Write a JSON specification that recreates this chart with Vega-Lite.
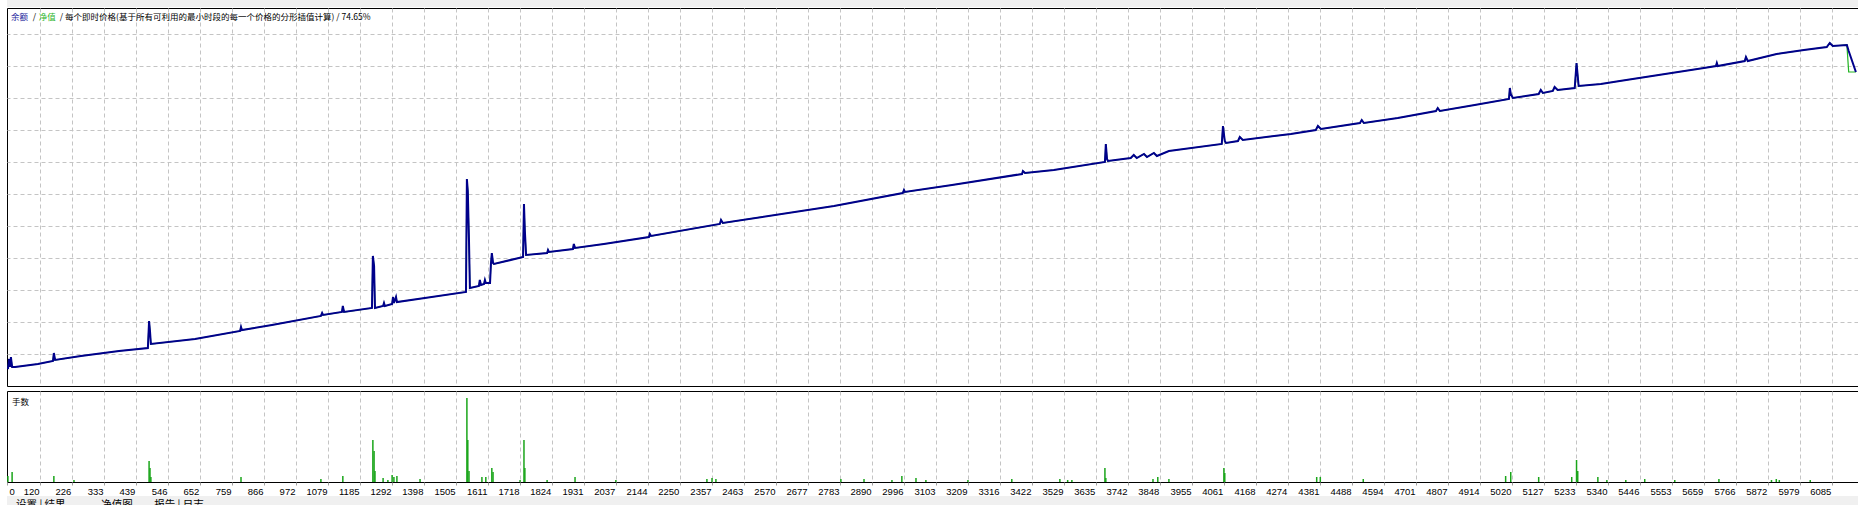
{
  "$schema": "https://vega.github.io/schema/vega-lite/v6.json",
  "background": "white",
  "padding": {"left": 3, "top": 0, "right": 0, "bottom": 0},
  "spacing": 0,
  "config": {
    "view": {"stroke": "black", "strokeWidth": 1, "fill": "white"},
    "font": "Liberation Sans"
  },
  "datasets": {
    "eq": [
      {"trade":13,"balance":531,"equity":531},{"trade":17,"balance":844,"equity":844},{"trade":20,"balance":594,"equity":594},{"trade":23,"balance":906,"equity":906},{"trade":27,"balance":594,"equity":594},{"trade":37,"balance":594,"equity":594},{"trade":113,"balance":688,"equity":688},{"trade":163,"balance":781,"equity":781},{"trade":166,"balance":1031,"equity":1031},{"trade":170,"balance":813,"equity":813},{"trade":256,"balance":938,"equity":938},{"trade":383,"balance":1094,"equity":1094},{"trade":479,"balance":1188,"equity":1188},{"trade":483,"balance":2031,"equity":2031},{"trade":486,"balance":1719,"equity":1719},{"trade":489,"balance":1313,"equity":1313},{"trade":636,"balance":1469,"equity":1469},{"trade":786,"balance":1719,"equity":1719},{"trade":789,"balance":1844,"equity":1844},{"trade":792,"balance":1750,"equity":1750},{"trade":892,"balance":1906,"equity":1906},{"trade":1055,"balance":2188,"equity":2188},{"trade":1059,"balance":2281,"equity":2281},{"trade":1062,"balance":2219,"equity":2219},{"trade":1125,"balance":2313,"equity":2313},{"trade":1128,"balance":2500,"equity":2500},{"trade":1132,"balance":2313,"equity":2313},{"trade":1225,"balance":2438,"equity":2438},{"trade":1228,"balance":4063,"equity":4063},{"trade":1232,"balance":3750,"equity":3750},{"trade":1235,"balance":2438,"equity":2438},{"trade":1262,"balance":2500,"equity":2500},{"trade":1265,"balance":2594,"equity":2594},{"trade":1268,"balance":2500,"equity":2500},{"trade":1292,"balance":2563,"equity":2563},{"trade":1295,"balance":2781,"equity":2781},{"trade":1298,"balance":2594,"equity":2594},{"trade":1305,"balance":2781,"equity":2781},{"trade":1308,"balance":2625,"equity":2625},{"trade":1401,"balance":2750,"equity":2750},{"trade":1538,"balance":2938,"equity":2938},{"trade":1541,"balance":6469,"equity":6469},{"trade":1544,"balance":6094,"equity":6094},{"trade":1548,"balance":4531,"equity":4531},{"trade":1551,"balance":3063,"equity":3063},{"trade":1581,"balance":3125,"equity":3125},{"trade":1584,"balance":3313,"equity":3313},{"trade":1588,"balance":3156,"equity":3156},{"trade":1598,"balance":3188,"equity":3188},{"trade":1601,"balance":3313,"equity":3313},{"trade":1604,"balance":3219,"equity":3219},{"trade":1618,"balance":3219,"equity":3219},{"trade":1621,"balance":3813,"equity":3813},{"trade":1624,"balance":4156,"equity":4156},{"trade":1628,"balance":3844,"equity":3844},{"trade":1631,"balance":3813,"equity":3813},{"trade":1714,"balance":4000,"equity":4000},{"trade":1728,"balance":4031,"equity":4031},{"trade":1731,"balance":5688,"equity":5688},{"trade":1734,"balance":4844,"equity":4844},{"trade":1738,"balance":4094,"equity":4094},{"trade":1808,"balance":4156,"equity":4156},{"trade":1811,"balance":4250,"equity":4250},{"trade":1814,"balance":4188,"equity":4188},{"trade":1894,"balance":4281,"equity":4281},{"trade":1897,"balance":4438,"equity":4438},{"trade":1901,"balance":4313,"equity":4313},{"trade":1997,"balance":4438,"equity":4438},{"trade":2147,"balance":4656,"equity":4656},{"trade":2150,"balance":4750,"equity":4750},{"trade":2154,"balance":4688,"equity":4688},{"trade":2383,"balance":5063,"equity":5063},{"trade":2387,"balance":5188,"equity":5188},{"trade":2393,"balance":5094,"equity":5094},{"trade":2763,"balance":5625,"equity":5625},{"trade":2992,"balance":6031,"equity":6031},{"trade":2996,"balance":6125,"equity":6125},{"trade":2999,"balance":6063,"equity":6063},{"trade":3156,"balance":6281,"equity":6281},{"trade":3389,"balance":6625,"equity":6625},{"trade":3392,"balance":6719,"equity":6719},{"trade":3399,"balance":6656,"equity":6656},{"trade":3495,"balance":6750,"equity":6750},{"trade":3665,"balance":7000,"equity":7000},{"trade":3668,"balance":7563,"equity":7563},{"trade":3672,"balance":7094,"equity":7094},{"trade":3675,"balance":7031,"equity":7031},{"trade":3751,"balance":7125,"equity":7125},{"trade":3761,"balance":7219,"equity":7219},{"trade":3771,"balance":7125,"equity":7125},{"trade":3795,"balance":7250,"equity":7250},{"trade":3805,"balance":7156,"equity":7156},{"trade":3828,"balance":7281,"equity":7281},{"trade":3838,"balance":7188,"equity":7188},{"trade":3878,"balance":7344,"equity":7344},{"trade":4054,"balance":7563,"equity":7563},{"trade":4058,"balance":8125,"equity":8125},{"trade":4064,"balance":7656,"equity":7656},{"trade":4068,"balance":7594,"equity":7594},{"trade":4108,"balance":7656,"equity":7656},{"trade":4114,"balance":7781,"equity":7781},{"trade":4124,"balance":7688,"equity":7688},{"trade":4284,"balance":7875,"equity":7875},{"trade":4367,"balance":8000,"equity":8000},{"trade":4374,"balance":8125,"equity":8125},{"trade":4384,"balance":8031,"equity":8031},{"trade":4514,"balance":8219,"equity":8219},{"trade":4520,"balance":8313,"equity":8313},{"trade":4527,"balance":8219,"equity":8219},{"trade":4640,"balance":8375,"equity":8375},{"trade":4767,"balance":8594,"equity":8594},{"trade":4773,"balance":8688,"equity":8688},{"trade":4780,"balance":8594,"equity":8594},{"trade":4896,"balance":8781,"equity":8781},{"trade":5010,"balance":8969,"equity":8969},{"trade":5013,"balance":9313,"equity":9313},{"trade":5016,"balance":9125,"equity":9125},{"trade":5023,"balance":9000,"equity":9000},{"trade":5109,"balance":9125,"equity":9125},{"trade":5116,"balance":9250,"equity":9250},{"trade":5123,"balance":9156,"equity":9156},{"trade":5156,"balance":9219,"equity":9219},{"trade":5162,"balance":9344,"equity":9344},{"trade":5172,"balance":9250,"equity":9250},{"trade":5229,"balance":9313,"equity":9313},{"trade":5235,"balance":10094,"equity":10094},{"trade":5242,"balance":9375,"equity":9375},{"trade":5316,"balance":9438,"equity":9438},{"trade":5379,"balance":9531,"equity":9531},{"trade":5659,"balance":9938,"equity":9938},{"trade":5699,"balance":10000,"equity":10000},{"trade":5702,"balance":10094,"equity":10094},{"trade":5705,"balance":10000,"equity":10000},{"trade":5795,"balance":10156,"equity":10156},{"trade":5799,"balance":10281,"equity":10281},{"trade":5805,"balance":10156,"equity":10156},{"trade":5901,"balance":10375,"equity":10375},{"trade":5992,"balance":10500,"equity":10500},{"trade":6068,"balance":10594,"equity":10594},{"trade":6078,"balance":10719,"equity":10719},{"trade":6088,"balance":10625,"equity":10625},{"trade":6135,"balance":10656,"equity":10656},{"trade":6141,"balance":10469,"equity":9813},{"trade":6165,"balance":9813,"equity":9813}
    ],
    "lots": [
      {"trade":13,"lots":0.06},{"trade":27,"lots":0.10},{"trade":166,"lots":0.06},{"trade":233,"lots":0.02},{"trade":483,"lots":0.21},{"trade":486,"lots":0.14},{"trade":489,"lots":0.05},{"trade":789,"lots":0.05},{"trade":1055,"lots":0.03},{"trade":1128,"lots":0.06},{"trade":1228,"lots":0.42},{"trade":1232,"lots":0.31},{"trade":1235,"lots":0.11},{"trade":1262,"lots":0.04},{"trade":1278,"lots":0.02},{"trade":1292,"lots":0.07},{"trade":1298,"lots":0.05},{"trade":1308,"lots":0.06},{"trade":1385,"lots":0.03},{"trade":1541,"lots":0.84},{"trade":1544,"lots":0.42},{"trade":1548,"lots":0.11},{"trade":1591,"lots":0.05},{"trade":1604,"lots":0.05},{"trade":1624,"lots":0.14},{"trade":1628,"lots":0.10},{"trade":1718,"lots":0.02},{"trade":1731,"lots":0.42},{"trade":1734,"lots":0.14},{"trade":1808,"lots":0.02},{"trade":1901,"lots":0.05},{"trade":2037,"lots":0.02},{"trade":2340,"lots":0.03},{"trade":2357,"lots":0.04},{"trade":2370,"lots":0.03},{"trade":2786,"lots":0.03},{"trade":2863,"lots":0.03},{"trade":2956,"lots":0.02},{"trade":2989,"lots":0.06},{"trade":3036,"lots":0.04},{"trade":3069,"lots":0.02},{"trade":3209,"lots":0.02},{"trade":3355,"lots":0.03},{"trade":3515,"lots":0.03},{"trade":3541,"lots":0.02},{"trade":3555,"lots":0.02},{"trade":3665,"lots":0.14},{"trade":3668,"lots":0.04},{"trade":3825,"lots":0.03},{"trade":3841,"lots":0.05},{"trade":3878,"lots":0.03},{"trade":4061,"lots":0.14},{"trade":4064,"lots":0.09},{"trade":4370,"lots":0.05},{"trade":4382,"lots":0.05},{"trade":4525,"lots":0.03},{"trade":4999,"lots":0.06},{"trade":5016,"lots":0.10},{"trade":5109,"lots":0.05},{"trade":5219,"lots":0.05},{"trade":5235,"lots":0.22},{"trade":5239,"lots":0.11},{"trade":5306,"lots":0.05},{"trade":5336,"lots":0.02},{"trade":5399,"lots":0.02},{"trade":5462,"lots":0.03},{"trade":5562,"lots":0.02},{"trade":5709,"lots":0.03},{"trade":5884,"lots":0.02},{"trade":5900,"lots":0.03},{"trade":5910,"lots":0.02},{"trade":6013,"lots":0.02}
    ]
  },
  "vconcat": [
    {
      "width": 1855,
      "height": 7,
      "view": {"fill": "#F0F0F0", "stroke": null},
      "data": {"values": []},
      "mark": {"type": "text"},
      "encoding": {"text": {"field": "t"}}
    },
    {
      "spacing": 3,
      "vconcat": [
        {
          "width": 1851,
          "height": 378,
          "data": {"name": "eq"},
          "layer": [
            {
              "mark": {"type": "line", "color": "#22B422", "strokeWidth": 1.2},
              "encoding": {
                "x": {"field": "trade", "type": "quantitative",
                  "scale": {"domain": [10, 6172], "nice": false, "zero": false},
                  "axis": {"values": [10,120,226,333,439,546,652,759,866,972,1079,1185,1292,1398,1505,1611,1718,1824,1931,2037,2144,2250,2357,2463,2570,2677,2783,2890,2996,3103,3209,3316,3422,3529,3635,3742,3848,3955,4061,4168,4274,4381,4488,4594,4701,4807,4914,5020,5127,5233,5340,5446,5553,5659,5766,5872,5979,6085],
                    "tickCount": 200,
                    "labels": false, "ticks": false, "domain": false, "title": null,
                    "grid": true, "gridColor": "#C4C4C4", "gridDash": [4, 3],
                    "gridOpacity": {"condition": {"test": "datum.value < 20", "value": 0}, "value": 1}}},
                "y": {"field": "equity", "type": "quantitative",
                  "scale": {"domain": [0, 11812.5], "nice": false, "zero": false},
                  "axis": {"orient": "right", "values": [1000,2000,3000,4000,5000,6000,7000,8000,9000,10000,11000],
                    "tickCount": 50,
                    "labels": false, "domain": false, "title": null,
                    "ticks": true, "tickSize": 3, "tickColor": "black",
                    "grid": true, "gridColor": "#C4C4C4", "gridDash": [4, 3]}}
              }
            },
            {
              "mark": {"type": "line", "color": "#00008B", "strokeWidth": 2},
              "encoding": {
                "x": {"field": "trade", "type": "quantitative"},
                "y": {"field": "balance", "type": "quantitative"}
              }
            },
            {
              "data": {"values": [{"t": "余额"}]},
              "mark": {"type": "text", "align": "left", "baseline": "middle", "font": "Noto Sans CJK SC", "fontSize": 8.5, "color": "#1A1A9A"},
              "encoding": {"x": {"datum": 23, "type": "quantitative"}, "y": {"datum": 11531, "type": "quantitative"}, "text": {"field": "t"}}
            },
            {
              "data": {"values": [{"t": "/"}]},
              "mark": {"type": "text", "align": "left", "baseline": "middle", "font": "Noto Sans CJK SC", "fontSize": 8.5, "color": "black"},
              "encoding": {"x": {"datum": 96, "type": "quantitative"}, "y": {"datum": 11531, "type": "quantitative"}, "text": {"field": "t"}}
            },
            {
              "data": {"values": [{"t": "净值"}]},
              "mark": {"type": "text", "align": "left", "baseline": "middle", "font": "Noto Sans CJK SC", "fontSize": 8.5, "color": "#2DB52D"},
              "encoding": {"x": {"datum": 116, "type": "quantitative"}, "y": {"datum": 11531, "type": "quantitative"}, "text": {"field": "t"}}
            },
            {
              "data": {"values": [{"t": "/ 每个即时价格(基于所有可利用的最小时段的每一个价格的分形插值计算) / 74.65%"}]},
              "mark": {"type": "text", "align": "left", "baseline": "middle", "font": "Noto Sans CJK SC", "fontSize": 8.5, "color": "black"},
              "encoding": {"x": {"datum": 186, "type": "quantitative"}, "y": {"datum": 11531, "type": "quantitative"}, "text": {"field": "t"}}
            }
          ]
        },
        {
          "width": 1851,
          "height": 91,
          "data": {"name": "lots"},
          "layer": [
            {
              "mark": {"type": "rule", "color": "#1AA51A", "strokeWidth": 1.5},
              "encoding": {
                "x": {"field": "trade", "type": "quantitative",
                  "scale": {"domain": [10, 6172], "nice": false, "zero": false},
                  "axis": {"values": [10,120,226,333,439,546,652,759,866,972,1079,1185,1292,1398,1505,1611,1718,1824,1931,2037,2144,2250,2357,2463,2570,2677,2783,2890,2996,3103,3209,3316,3422,3529,3635,3742,3848,3955,4061,4168,4274,4381,4488,4594,4701,4807,4914,5020,5127,5233,5340,5446,5553,5659,5766,5872,5979,6085],
                    "tickCount": 200,
                    "format": "d",
                    "labelExpr": "datum.value < 20 ? '0' : datum.label",
                    "labelAlign": {"condition": {"test": "datum.value < 20", "value": "left"}, "value": "right"},
                    "labelOffset": {"condition": {"test": "datum.value < 20", "value": 2}, "value": -1},
                    "labelFont": "Liberation Sans", "labelFontSize": 9.5, "labelColor": "black",
                    "labelBaseline": "top", "labelPadding": 1,
                    "labelOverlap": false, "labelFlush": false, "labelBound": false,
                    "ticks": true, "tickSize": 3, "tickColor": "#A0A0A0",
                    "domain": false, "title": null,
                    "grid": true, "gridColor": "#C4C4C4", "gridDash": [4, 3],
                    "gridOpacity": {"condition": {"test": "datum.value < 20", "value": 0}, "value": 1}}},
                "y": {"field": "lots", "type": "quantitative",
                  "scale": {"domain": [0, 0.91], "nice": false, "zero": false}, "axis": null},
                "y2": {"datum": 0}
              }
            },
            {
              "data": {"values": [{"t": "手数"}]},
              "mark": {"type": "text", "align": "left", "baseline": "middle", "font": "Noto Sans CJK SC", "fontSize": 8.5, "color": "black"},
              "encoding": {"x": {"datum": 27, "type": "quantitative"}, "y": {"datum": 0.8, "type": "quantitative"}, "text": {"field": "t"}}
            }
          ]
        }
      ]
    },
    {
      "width": 1855,
      "height": 20,
      "view": {"fill": "#F0F0F0", "stroke": null},
      "layer": [
        {
          "data": {"values": [{"t": "设置 | 结果"}]},
          "mark": {"type": "text", "align": "left", "baseline": "top", "font": "Noto Sans CJK SC", "fontSize": 10.5, "color": "black"},
          "encoding": {
            "x": {"datum": 40, "type": "quantitative", "scale": {"domain": [10, 6172], "nice": false, "zero": false}, "axis": null},
            "y": {"datum": 16, "type": "quantitative", "scale": {"domain": [0, 20], "nice": false}, "axis": null},
            "text": {"field": "t"}
          }
        },
        {
          "data": {"values": [{"t": "净值图"}]},
          "mark": {"type": "text", "align": "left", "baseline": "top", "font": "Noto Sans CJK SC", "fontSize": 10.5, "color": "black"},
          "encoding": {"x": {"datum": 323, "type": "quantitative"}, "y": {"datum": 16, "type": "quantitative"}, "text": {"field": "t"}}
        },
        {
          "data": {"values": [{"t": "报告 | 日志"}]},
          "mark": {"type": "text", "align": "left", "baseline": "top", "font": "Noto Sans CJK SC", "fontSize": 10.5, "color": "black"},
          "encoding": {"x": {"datum": 499, "type": "quantitative"}, "y": {"datum": 16, "type": "quantitative"}, "text": {"field": "t"}}
        }
      ]
    }
  ]
}
